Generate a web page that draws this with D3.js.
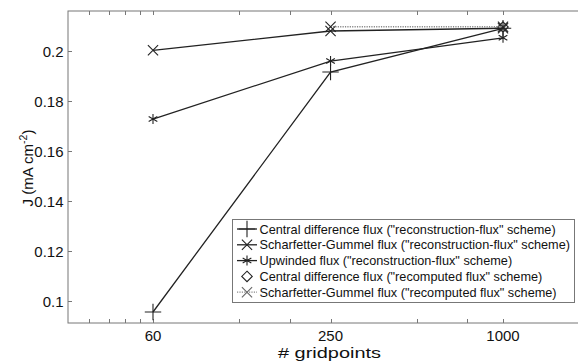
<!DOCTYPE html>
<html><head><meta charset="utf-8">
<script src="https://cdn.jsdelivr.net/npm/d3@7"></script>
<style>body{margin:0;background:#fff}svg{display:block}text{font-family:"Liberation Sans",Arial,sans-serif;fill:#111}</style>
</head><body><svg id="c" width="578" height="363"></svg>
<script>
const gridpoints = [60, 250, 1000];
const centralRecon = [0.0956, 0.1915, 0.2090];
const sgRecon = [0.2002, 0.2079, 0.2090];
const upwindRecon = [0.1727, 0.1959, 0.2052];
const centralRecompX = [1000];
const centralRecomp = [0.2095];
const sgRecompX = [250, 1000];
const sgRecomp = [0.2096, 0.2096];
const xTickLabels = [60, 250, 1000];
const xMinorTicks = [36, 42, 48, 54, 120, 180, 500, 750];
const yTicks = [0.1, 0.12, 0.14, 0.16, 0.18, 0.2];
const legendLabels = [
  'Central difference flux ("reconstruction-flux" scheme)',
  'Scharfetter-Gummel flux ("reconstruction-flux" scheme)',
  'Upwinded flux ("reconstruction-flux" scheme)',
  'Central difference flux ("recomputed flux" scheme)',
  'Scharfetter-Gummel flux ("recomputed flux" scheme)'
];

const svg = d3.select('#c');
const L = 68, T = 11, R = 582, B = 323;
const x = d3.scaleLog().domain([30.3, 1000 * Math.pow(10, (R - 503) / 286.5)]).range([L, R]);
const y = d3.scaleLinear().domain([0.0912, 0.2159]).range([B, T]);

const ink = '#222';
svg.append('rect').attr('x', L).attr('y', T).attr('width', R - L).attr('height', B - T)
  .attr('fill', 'none').attr('stroke', '#777').attr('stroke-width', 1);

const allX = xTickLabels.concat(xMinorTicks);
allX.forEach(v => {
  const px = Math.round(x(v)) + 0.5;
  svg.append('line').attr('x1', px).attr('x2', px).attr('y1', B).attr('y2', B - 4).attr('stroke', '#777');
  svg.append('line').attr('x1', px).attr('x2', px).attr('y1', T).attr('y2', T + 4).attr('stroke', '#777');
});
xTickLabels.forEach(v => {
  svg.append('text').attr('x', x(v)).attr('y', 341).attr('text-anchor', 'middle')
    .attr('font-size', 15).text(v);
});
yTicks.forEach(v => {
  const py = Math.round(y(v)) + 0.5;
  svg.append('line').attr('x1', L).attr('x2', L + 4).attr('y1', py).attr('y2', py).attr('stroke', '#777');
  svg.append('text').attr('x', 63.5).attr('y', py + 5.5).attr('text-anchor', 'end')
    .attr('font-size', 15).text(d3.format('')(v));
});
const xl = svg.append('text').attr('x', 278).attr('y', 358)
  .attr('font-size', 15.5).text('# gridpoints');
xl.attr('textLength', 103).attr('lengthAdjust', 'spacingAndGlyphs');
const yl = svg.append('text').attr('transform', 'translate(33,168) rotate(-90)')
  .attr('text-anchor', 'middle').attr('font-size', 15);
yl.append('tspan').text('J (mA cm');
yl.append('tspan').attr('dy', -6).attr('font-size', 10.5).text('-2');
yl.append('tspan').attr('dy', 6).text(')');

const line = d3.line().x(d => x(d[0])).y(d => y(d[1]));
const sym = {
  plus: d3.symbol().type(d3.symbolPlus).size(90),
  times: d3.symbol().type(d3.symbolTimes).size(70),
  ast: d3.symbol().type(d3.symbolAsterisk).size(70),
  diamond: d3.symbol().type(d3.symbolDiamond2).size(70)
};
const series = [
  {xs: gridpoints, ys: centralRecon, m: 'plus', dash: null, col: ink},
  {xs: gridpoints, ys: sgRecon, m: 'times', dash: null, col: ink},
  {xs: gridpoints, ys: upwindRecon, m: 'ast', dash: null, col: ink},
  {xs: centralRecompX, ys: centralRecomp, m: 'diamond', dash: null, col: ink, noLine: true},
  {xs: sgRecompX, ys: sgRecomp, m: 'times', dash: '1.2,1.2', col: '#888'}
];
series.forEach(s => {
  const pts = s.xs.map((v, i) => [v, s.ys[i]]);
  if (!s.noLine) svg.append('path').attr('d', line(pts)).attr('fill', 'none')
    .attr('stroke', s.col).attr('stroke-width', 1.3).attr('stroke-dasharray', s.dash);
  pts.forEach(p => svg.append('path').attr('d', sym[s.m]())
    .attr('transform', `translate(${x(p[0])},${y(p[1])})`)
    .attr('fill', 'none').attr('stroke', ink).attr('stroke-width', 1.1));
});

const lg = svg.append('g');
lg.append('rect').attr('x', 232.5).attr('y', 219.5).attr('width', 342).attr('height', 83)
  .attr('fill', '#fff').attr('stroke', '#777');
const texts = [];
series.forEach((s, i) => {
  const cy = 229 + i * 15.8;
  if (!s.noLine) lg.append('line').attr('x1', 237).attr('x2', 257).attr('y1', cy).attr('y2', cy)
    .attr('stroke', s.col).attr('stroke-width', 1.3).attr('stroke-dasharray', s.dash);
  lg.append('path').attr('d', sym[s.m]()).attr('transform', `translate(247,${cy})`)
    .attr('fill', 'none').attr('stroke', i === 4 ? '#666' : ink).attr('stroke-width', 1.1);
  texts.push(lg.append('text').attr('x', 259.5).attr('y', cy + 4.5).attr('font-size', 12.6).text(legendLabels[i]));
});
const k = (570 - 259.5) / texts[1].node().getComputedTextLength();
texts.forEach(t => t.attr('textLength', t.node().getComputedTextLength() * k).attr('lengthAdjust', 'spacingAndGlyphs'));
</script></body></html>
